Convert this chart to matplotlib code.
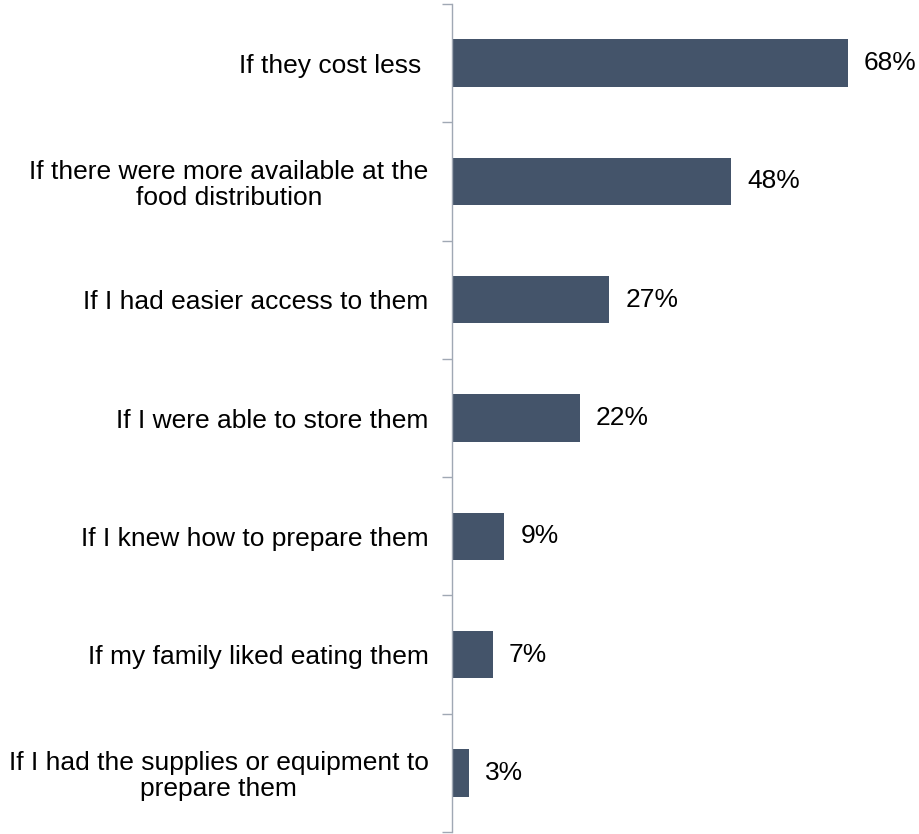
import numpy as np
import matplotlib.pyplot as plt

plt.rcParams['font.family'] = ['Liberation Sans', 'DejaVu Sans']

# Ways people would eat more fruit and vegetables
categories = [
    'If they cost less ',
    'If there were more available at the\nfood distribution',
    'If I had easier access to them',
    'If I were able to store them',
    'If I knew how to prepare them',
    'If my family liked eating them',
    'If I had the supplies or equipment to\nprepare them',
]
percents = [68, 48, 27, 22, 9, 7, 3]

bar_color = '#44546A'
axis_color = '#A0A8B4'
px_per_pct = 5.82

fig = plt.figure(figsize=(9.19, 8.34), dpi=100)
ax = fig.add_axes([452 / 919, 2 / 834, 467 / 919, 828 / 834])

y = np.arange(len(categories))
ax.barh(y, percents, height=0.4, color=bar_color)

for yi, p in zip(y, percents):
    ax.text(p + 16 / px_per_pct, yi, f'{p}%', va='center', ha='left', fontsize=19)

ax.set_ylim(len(categories) - 0.5, -0.5)
ax.set_xlim(0, 467 / px_per_pct)

ax.set_yticks(y)
ax.set_yticklabels(categories, fontsize=19, ha='right', multialignment='center',
                   linespacing=1.1)
ax.tick_params(axis='y', which='major', length=0, pad=17)
ax.set_yticks(np.arange(-0.5, len(categories)), minor=True)
ax.tick_params(axis='y', which='minor', length=7, color=axis_color, width=1)

ax.set_xticks([])
for side in ['top', 'right', 'bottom']:
    ax.spines[side].set_visible(False)
ax.spines['left'].set_color(axis_color)
ax.spines['left'].set_linewidth(1)

fig.savefig('out.png', dpi=100)
